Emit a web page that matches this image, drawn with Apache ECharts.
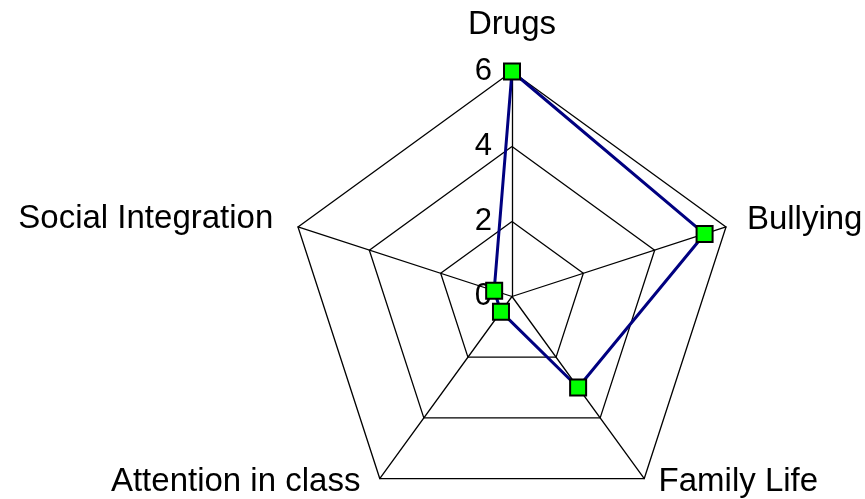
<!DOCTYPE html>
<html>
<head>
<meta charset="utf-8">
<script src="https://cdn.jsdelivr.net/npm/echarts@6/dist/echarts.min.js"></script>
<style>
html,body{margin:0;padding:0;background:#fff;}
#chart{width:865px;height:499px;}
</style>
</head>
<body>
<div id="chart"></div>
<script>
// Data (counter-clockwise from top, as ECharts radar lays them out)
const indicatorNames = ['Drugs', 'Social Integration', 'Attention in class', 'Family Life', 'Bullying'];
const seriesValues = [6, 0.5, 0.5, 3, 5.4];
const tickValues = [0, 2, 4, 6];

const FONT = 'Liberation Sans, Arial, sans-serif';
const axisMax = tickValues[tickValues.length - 1];

// Per-indicator label placement (layout only)
const nameLayout = [
  { nameGap: 30, padding: [0, 0, 0, 0] },
  { nameGap: 26, padding: [0, 0, 6, 0] },
  { nameGap: 4,  padding: [0, 17, 0, 0] },
  { nameGap: 4,  padding: [0, 0, 0, 12] },
  { nameGap: 22, padding: [0, 0, 6, 0] }
];

const indicators = indicatorNames.map(function (n, i) {
  const ind = {
    name: n,
    min: 0,
    max: axisMax,
    nameGap: nameLayout[i].nameGap,
    nameTextStyle: { padding: nameLayout[i].padding }
  };
  if (i === 0) {
    ind.axisLabel = {
      show: true,
      color: '#000',
      fontSize: 31,
      fontFamily: FONT,
      margin: 20,
      padding: [0, 0, 10, 0]
    };
  }
  return ind;
});

const chart = echarts.init(document.getElementById('chart'), null, { renderer: 'canvas' });
chart.setOption({
  animation: false,
  backgroundColor: '#fff',
  radar: {
    center: [512, 296.5],
    radius: 225,
    startAngle: 90,
    splitNumber: tickValues.length - 1,
    shape: 'polygon',
    indicator: indicators,
    axisName: { color: '#000', fontSize: 33, fontFamily: FONT },
    axisNameGap: 20,
    splitLine: { lineStyle: { color: '#000', width: 1.3 } },
    splitArea: { show: false },
    axisLine: { lineStyle: { color: '#000', width: 1.3 } },
    axisTick: { show: false },
    axisLabel: { show: false }
  },
  series: [{
    type: 'radar',
    symbol: 'rect',
    symbolSize: 16,
    itemStyle: { color: '#00ff00', borderColor: '#000', borderWidth: 2 },
    lineStyle: { color: '#000080', width: 3 },
    data: [{ value: seriesValues }]
  }]
});
</script>
</body>
</html>
